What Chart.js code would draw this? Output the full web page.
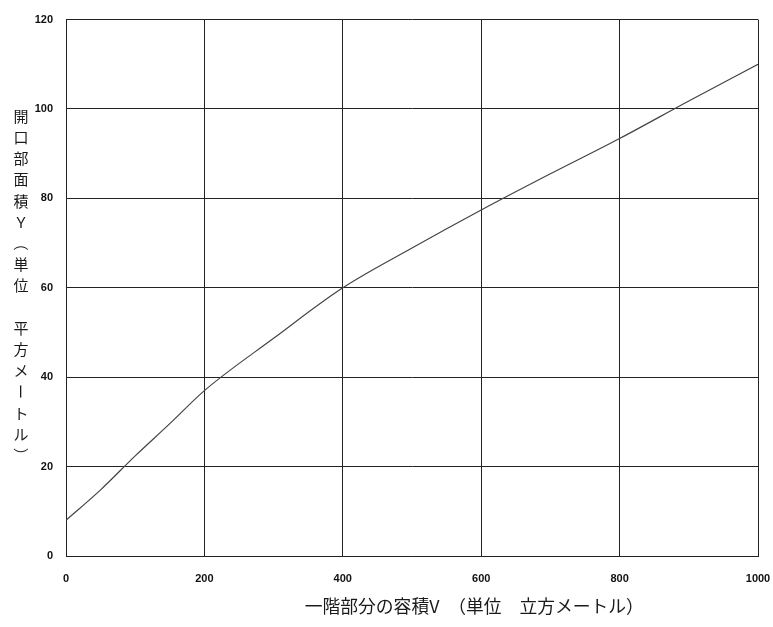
<!DOCTYPE html>
<html>
<head>
<meta charset="utf-8">
<script src="https://cdn.jsdelivr.net/npm/chart.js@4"></script>
<style>
  body { margin: 0; background: #fff; }
</style>
</head>
<body>
<canvas id="chart" width="773" height="627"></canvas>
<script>
// values
var volumeV = [0, 50, 100, 150, 200, 300, 400, 500, 600, 700, 800, 900, 1000];
var openingY = [8, 14.8, 22.4, 29.6, 37.0, 48.7, 60.0, 68.9, 77.4, 85.5, 93.4, 101.8, 110];
var xTicks = [0, 200, 400, 600, 800, 1000];
var yTicks = [0, 20, 40, 60, 80, 100, 120];
var xTitle = '一階部分の容積V　（単位　立方メートル）';
var yTitle = '開口部面積Ｙ（単位　平方メートル）';

var points = volumeV.map(function (v, i) {
    return { x: v, y: openingY[i] };
});

// axis titles: the y one is written top to bottom, one character at a time
var axisTitles = {
    id: 'axisTitles',
    afterDraw: function (chart) {
        var ctx = chart.ctx;
        var area = chart.chartArea;
        ctx.save();
        ctx.fillStyle = '#1a1a1a';
        ctx.textAlign = 'center';
        ctx.textBaseline = 'middle';

        ctx.font = '17.8px "Noto Sans CJK JP"';
        ctx.fillText(xTitle, area.left + (area.right - area.left) * 0.59, 606);

        ctx.font = '15px "Noto Sans CJK JP"';
        Array.from(yTitle).forEach(function (c, i) {
            ctx.save();
            ctx.translate(21, 116 + i * 21.2);
            if ('（）ー'.indexOf(c) >= 0) ctx.rotate(Math.PI / 2);
            ctx.fillText(c, 0, 0);
            ctx.restore();
        });
        ctx.restore();
    }
};

var ctx = document.getElementById('chart').getContext('2d');

var chart = new Chart(ctx, {
    type: 'line',
    data: {
        datasets: [{
            data: points,
            borderColor: '#444',
            borderWidth: 1.2,
            pointRadius: 0,
            cubicInterpolationMode: 'monotone',
            fill: false
        }]
    },
    options: {
        responsive: false,
        animation: false,
        layout: {
            padding: { left: 0, right: 15, top: 17, bottom: 0 }
        },
        plugins: {
            legend: { display: false },
            tooltip: { enabled: false }
        },
        scales: {
            x: {
                type: 'linear',
                min: 0,
                max: 1000,
                afterBuildTicks: function (s) {
                    s.ticks = xTicks.map(function (v) { return { value: v }; });
                },
                afterFit: function (s) {
                    s.height = 71;
                    s.paddingLeft = 0;
                    s.paddingRight = 0;
                },
                grid: { color: '#222', lineWidth: 1, drawTicks: false },
                border: { color: '#222', width: 1 },
                ticks: {
                    padding: 16,
                    color: '#111',
                    maxRotation: 0,
                    callback: function (v) { return String(v); },
                    font: { family: 'Liberation Sans', size: 11, weight: 'bold' }
                }
            },
            y: {
                min: 0,
                max: 120,
                afterBuildTicks: function (s) {
                    s.ticks = yTicks.map(function (v) { return { value: v }; });
                },
                afterFit: function (s) { s.width = 66; },
                grid: { color: '#222', lineWidth: 1, drawTicks: false },
                border: { color: '#222', width: 1 },
                ticks: {
                    padding: 13,
                    color: '#111',
                    callback: function (v) { return String(v); },
                    font: { family: 'Liberation Sans', size: 11, weight: 'bold' }
                }
            }
        }
    },
    plugins: [axisTitles]
});
</script>
</body>
</html>
